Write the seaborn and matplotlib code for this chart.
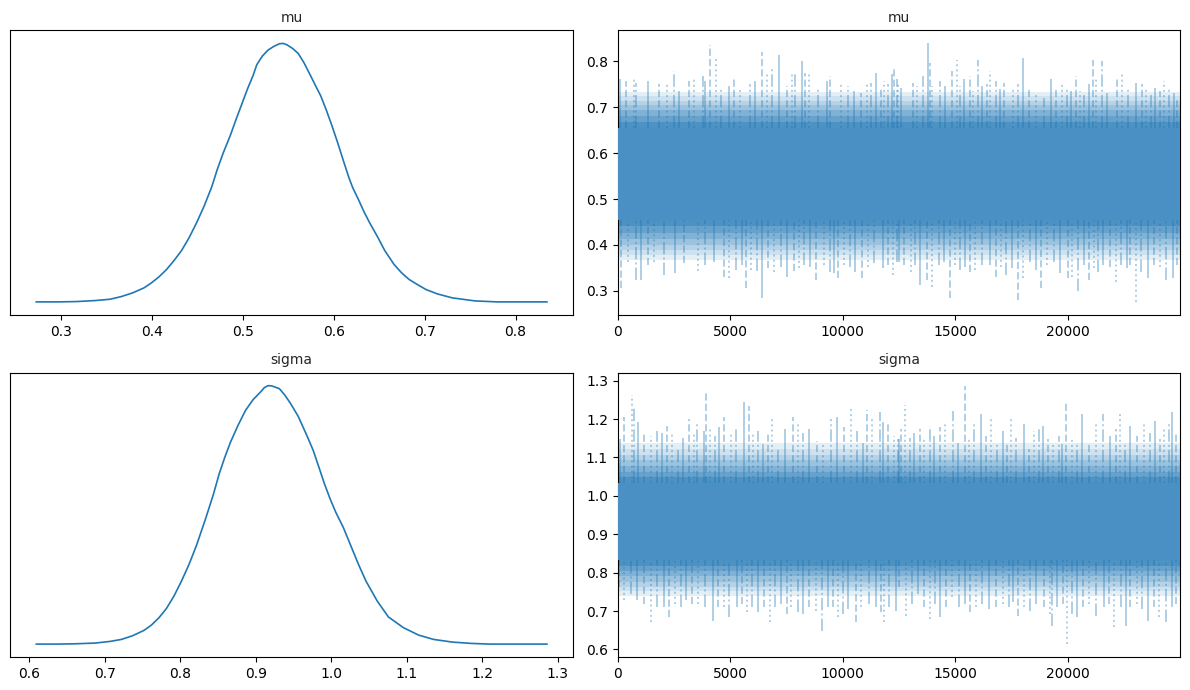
import matplotlib
matplotlib.use("Agg")
import matplotlib.pyplot as plt
import seaborn as sns

# ---------------- data ----------------
params = ["mu", "sigma"]

mu_kde_x = [0.2723, 0.2959, 0.3166, 0.3373, 0.3538, 0.3662, 0.3786, 0.3911, 0.3993, 0.4076,
            0.4159, 0.4242, 0.4325, 0.4407, 0.4490, 0.4573, 0.4656, 0.4718, 0.4780, 0.4863,
            0.4925, 0.4987, 0.5049, 0.5111, 0.5152, 0.5214, 0.5276, 0.5339, 0.5401, 0.5442,
            0.5483, 0.5546, 0.5608, 0.5670, 0.5732, 0.5794, 0.5856, 0.5918, 0.5980, 0.6042,
            0.6104, 0.6166, 0.6208, 0.6270, 0.6332, 0.6394, 0.6477, 0.6560, 0.6663, 0.6746,
            0.6829, 0.6932, 0.7015, 0.7139, 0.7305, 0.7553, 0.7801, 0.8348]
mu_kde_y = [0.0, 0.0, 0.008, 0.032, 0.064, 0.128, 0.216, 0.336, 0.456, 0.600,
            0.776, 0.992, 1.232, 1.536, 1.896, 2.296, 2.752, 3.176, 3.552, 4.000,
            4.376, 4.736, 5.096, 5.420, 5.680, 5.890, 6.032, 6.120, 6.184, 6.192,
            6.160, 6.072, 5.952, 5.736, 5.472, 5.200, 4.936, 4.592, 4.216, 3.816,
            3.392, 2.976, 2.736, 2.456, 2.160, 1.896, 1.576, 1.232, 0.896, 0.696,
            0.536, 0.400, 0.296, 0.192, 0.096, 0.024, 0.0, 0.0]

sigma_kde_x = [0.6090, 0.6374, 0.6623, 0.6872, 0.7071, 0.7221, 0.7370, 0.7520, 0.7619,
               0.7719, 0.7819, 0.7918, 0.8018, 0.8118, 0.8217, 0.8342, 0.8441, 0.8516,
               0.8591, 0.8666, 0.8765, 0.8865, 0.8965, 0.9064, 0.9114, 0.9164, 0.9214,
               0.9313, 0.9388, 0.9463, 0.9563, 0.9687, 0.9762, 0.9837, 0.9911, 0.9986,
               1.0061, 1.0160, 1.0260, 1.0360, 1.0459, 1.0609, 1.0758, 1.0958, 1.1157,
               1.1356, 1.1605, 1.1855, 1.2104, 1.2861]
sigma_kde_y = [0.0, 0.0, 0.007, 0.021, 0.055, 0.096, 0.172, 0.281, 0.391, 0.542,
               0.734, 0.988, 1.297, 1.640, 2.031, 2.600, 3.080, 3.492, 3.835, 4.143,
               4.486, 4.795, 5.015, 5.172, 5.262, 5.303, 5.296, 5.241, 5.104, 4.932,
               4.672, 4.246, 3.972, 3.629, 3.286, 2.977, 2.703, 2.394, 2.017, 1.640,
               1.297, 0.885, 0.556, 0.336, 0.185, 0.096, 0.041, 0.014, 0.0, 0.0]

# dense central band and the graded fringe levels beyond it
mu_core = (0.455, 0.655)
mu_upper_levels = [0.655, 0.668, 0.681, 0.693, 0.704, 0.714, 0.724, 0.733]
mu_lower_levels = [0.455, 0.441, 0.427, 0.413, 0.400, 0.389, 0.378, 0.368]
sigma_core = (0.832, 1.033)
sigma_upper_levels = [1.033, 1.048, 1.063, 1.078, 1.093, 1.107, 1.121, 1.138]
sigma_lower_levels = [0.832, 0.818, 0.804, 0.790, 0.776, 0.763, 0.751, 0.738]

# upper spike tips (draw index, value)
mu_top_draw = [119, 371, 711, 815, 1363, 1853, 2193, 2490, 2742, 3186, 3379, 3779, 3883,
               4120, 4387, 4594, 4965, 5187, 5454, 5898, 6106, 6402, 6639, 6847, 7173,
               7529, 7736, 7884, 8181, 8329, 8522, 8892, 9307, 9426, 9929, 10226, 10522,
               10819, 11085, 11263, 11500, 11708, 11856, 12034, 12182, 12301, 12449,
               12413, 12591, 13124, 13302, 13569, 13776, 13866, 13969, 14340, 14562,
               14858, 15081, 15229, 15407, 15673, 15792, 16014, 16192, 16414, 16563,
               16800, 17007, 17185, 17570, 17778, 18015, 18267, 18608, 18934, 19260,
               19497, 19749, 19971, 20149, 20386, 20535, 20742, 20950, 21127, 21275,
               21542, 21750, 22194, 22431, 22668, 23024, 23306, 23498, 23706, 23899,
               24121, 24269, 24491, 24743, 24862]
mu_top_val = [0.761, 0.757, 0.764, 0.753, 0.757, 0.750, 0.753, 0.779, 0.735, 0.757, 0.761,
              0.768, 0.757, 0.836, 0.809, 0.742, 0.746, 0.761, 0.739, 0.750, 0.757, 0.821,
              0.772, 0.783, 0.814, 0.746, 0.773, 0.772, 0.801, 0.775, 0.772, 0.739, 0.757,
              0.768, 0.753, 0.746, 0.735, 0.732, 0.753, 0.753, 0.775, 0.739, 0.757, 0.750,
              0.772, 0.788, 0.750,
              0.761, 0.742, 0.753, 0.746, 0.768, 0.839, 0.797, 0.746, 0.757, 0.746, 0.780,
              0.802, 0.746, 0.761, 0.768, 0.735, 0.802, 0.746, 0.750, 0.779, 0.758, 0.739,
              0.753, 0.742, 0.750, 0.807, 0.739, 0.732, 0.721, 0.761, 0.742, 0.753, 0.739,
              0.735, 0.768, 0.735, 0.732, 0.750, 0.802, 0.764, 0.801, 0.732, 0.764, 0.773,
              0.739, 0.753, 0.750, 0.742, 0.728, 0.742, 0.735, 0.757, 0.742, 0.732, 0.721]

# lower spike tips (draw index, value)
mu_bot_draw = [148, 445, 815, 1037, 1334, 1630, 2045, 2549, 2964, 3557, 3883, 4298, 4713,
               4965, 5261, 5513, 5721, 5928, 6195, 6402, 6669, 6965, 7262, 7529, 7855,
               8077, 8299, 8566, 8833, 9188, 9455, 9633, 9811, 10078, 10344, 10552, 10848,
               11145, 11411, 11782, 12004, 12241, 12419,
               12487, 12709, 13035, 13228, 13421, 13747, 13969, 14266, 14488, 14755,
               15007, 15229, 15451, 15644, 15896, 16192, 16533, 16829, 17037, 17274,
               17526, 17778, 18015, 18311, 18608, 18815, 19082, 19378, 19675, 20001,
               20194, 20445, 20712, 20935, 21157, 21335, 21572, 21898, 22135, 22372,
               22639, 22787, 23024, 23261, 23558, 23824, 24121, 24388, 24684, 24862]
mu_bot_val = [0.306, 0.364, 0.324, 0.324, 0.357, 0.364, 0.335, 0.339, 0.360, 0.344, 0.357,
              0.364, 0.331, 0.328, 0.346, 0.357, 0.307, 0.346, 0.344, 0.285, 0.349, 0.342,
              0.353, 0.331, 0.344, 0.349, 0.357, 0.353, 0.324, 0.357, 0.342, 0.339, 0.329,
              0.357, 0.353, 0.342, 0.328, 0.353, 0.360, 0.349, 0.357, 0.335, 0.364,
              0.364, 0.357, 0.342, 0.357, 0.313, 0.324, 0.309, 0.357, 0.364, 0.284, 0.357,
              0.346, 0.353, 0.342, 0.346, 0.357, 0.357, 0.331, 0.353, 0.335, 0.349, 0.280,
              0.328, 0.364, 0.346, 0.306, 0.357, 0.364, 0.339, 0.328, 0.331, 0.299, 0.357,
              0.324, 0.349, 0.342, 0.357, 0.353, 0.320, 0.357, 0.349, 0.357, 0.276, 0.342,
              0.328, 0.357, 0.353, 0.324, 0.328, 0.357]

sigma_top_draw = [119, 267, 622, 741, 919, 1156, 1482, 1749, 1956, 2193, 2401, 2668, 2890,
                  3186, 3379, 3527, 3824, 3942, 4120, 4327, 4520, 4713, 5039, 5261, 5602,
                  5824, 6002, 6224, 6447, 6669, 6876, 7114, 7440, 7781, 8003, 8240, 8522,
                  8862, 9114, 9485, 9752, 10078, 10374, 10641, 10893, 11085, 11293, 11649,
                  11782, 12034, 12301, 12449,
                  12487, 12591, 12784, 13006, 13184, 13421, 13628, 13865, 14073, 14340,
                  14562, 14903, 15110, 15451, 15599, 15822, 16148, 16385, 16592, 16859,
                  17126, 17304, 17481, 17719, 18045, 18282, 18489, 18712, 18904, 19112,
                  19349, 19601, 19749, 19942, 20194, 20416, 20653, 20935, 21275, 21572,
                  21868, 22165, 22313, 22565, 22787, 23083, 23409, 23646, 23899, 24121,
                  24269, 24491, 24640, 24832]
sigma_top_val = [1.147, 1.204, 1.262, 1.230, 1.191, 1.164, 1.156, 1.169, 1.164, 1.182,
                 1.164, 1.125, 1.151, 1.199, 1.164, 1.192, 1.169, 1.268, 1.178, 1.156,
                 1.178, 1.204, 1.164, 1.182, 1.245, 1.234, 1.160, 1.169, 1.134, 1.164,
                 1.199, 1.125, 1.173, 1.204, 1.191, 1.164, 1.173, 1.143, 1.134, 1.199,
                 1.204, 1.178, 1.227, 1.169, 1.138, 1.224, 1.199, 1.219, 1.191, 1.195,
                 1.156, 1.147,
                 1.147, 1.173, 1.236, 1.151, 1.164, 1.173, 1.151, 1.182, 1.156, 1.178,
                 1.186, 1.221, 1.138, 1.287, 1.151, 1.195, 1.213, 1.156, 1.199, 1.138,
                 1.169, 1.138, 1.201, 1.151, 1.186, 1.121, 1.169, 1.173, 1.182, 1.147,
                 1.138, 1.156, 1.134, 1.241, 1.151, 1.134, 1.213, 1.138, 1.186, 1.213,
                 1.156, 1.173, 1.217, 1.138, 1.182, 1.156, 1.195, 1.164, 1.195, 1.147,
                 1.173, 1.186, 1.217, 1.164]

sigma_bot_draw = [74, 296, 593, 860, 1186, 1482, 1749, 2045, 2297, 2549, 2816, 3038, 3290,
                  3557, 3883, 4224, 4446, 4713, 4965, 5306, 5513, 5750, 5958, 6224, 6521,
                  6758, 6995, 7262, 7529, 7706, 8003, 8240, 8522, 8818, 9099, 9337, 9559,
                  9781, 10004, 10226, 10611, 10819, 11189, 11486, 11708, 11826, 12078, 12375,
                  12487, 12828, 13080, 13332, 13599, 13865, 14117, 14340, 14606, 14858,
                  15155, 15451, 15673, 15940, 16192, 16489, 16829, 17126, 17378, 17570,
                  17793, 18045, 18341, 18608, 18934, 19201, 19304, 19527, 19793, 19971,
                  20194, 20416, 20683, 20935, 21275, 21601, 21824, 22076, 22372, 22580,
                  22787, 23083, 23306, 23558, 23824, 24047, 24388, 24640, 24832]
sigma_bot_val = [0.762, 0.728, 0.745, 0.728, 0.719, 0.671, 0.710, 0.710, 0.684, 0.719,
                 0.710, 0.728, 0.719, 0.719, 0.710, 0.675, 0.710, 0.710, 0.684, 0.710,
                 0.719, 0.697, 0.710, 0.697, 0.710, 0.671, 0.710, 0.719, 0.693, 0.710,
                 0.697, 0.693, 0.710, 0.701, 0.649, 0.710, 0.710, 0.684, 0.693, 0.706,
                 0.671, 0.710, 0.719, 0.710, 0.697, 0.671, 0.710, 0.701,
                 0.762, 0.688, 0.719, 0.745, 0.710, 0.679, 0.719, 0.684, 0.710, 0.736,
                 0.710, 0.719, 0.697, 0.710, 0.719, 0.706, 0.710, 0.719, 0.710, 0.723,
                 0.688, 0.710, 0.701, 0.719, 0.710, 0.693, 0.662, 0.710, 0.719, 0.614,
                 0.693, 0.684, 0.710, 0.719, 0.688, 0.710, 0.719, 0.658, 0.710, 0.662,
                 0.710, 0.719, 0.706, 0.675, 0.710, 0.684, 0.671, 0.710, 0.719]

n_draws = 25000
xticks_trace = [0, 5000, 10000, 15000, 20000]

# ---------------- plotting ----------------
sns.set_style("ticks")
plt.rcParams.update({
    "font.family": ["DejaVu Sans"],
    "axes.edgecolor": "black",
    "axes.linewidth": 0.8,
    "xtick.color": "black",
    "ytick.color": "black",
    "xtick.labelsize": 10,
    "ytick.labelsize": 10,
    "axes.titlesize": 10,
})

C0 = "#1f77b4"
CORE = "#4a90c4"
styles = ["-", "--", ":", "-."]
fringe_alphas = [0.80, 0.68, 0.56, 0.44, 0.33, 0.22, 0.12]

fig, axes = plt.subplots(2, 2, figsize=(11.9, 6.9), dpi=100)
fig.subplots_adjust(left=0.0088, right=0.9916, top=0.9558, bottom=0.0478,
                    wspace=0.08, hspace=0.2035)

kde = {"mu": (mu_kde_x, mu_kde_y), "sigma": (sigma_kde_x, sigma_kde_y)}
trace = {
    "mu": (mu_core, mu_upper_levels, mu_lower_levels,
           mu_top_draw, mu_top_val, mu_bot_draw, mu_bot_val),
    "sigma": (sigma_core, sigma_upper_levels, sigma_lower_levels,
              sigma_top_draw, sigma_top_val, sigma_bot_draw, sigma_bot_val),
}

for row, p in enumerate(params):
    # density panel
    ax = axes[row, 0]
    kx, ky = kde[p]
    sns.lineplot(x=kx, y=ky, ax=ax, color=C0, linewidth=1.2, sort=False)
    ax.set_yticks([])
    ax.set_ylabel("")
    ax.set_title(p)
    for s in ax.spines.values():
        s.set_visible(True)

    # trace panel
    ax = axes[row, 1]
    core, up, lo, td, tv, bd, bv = trace[p]
    for i, a in enumerate(fringe_alphas):
        ax.fill_between([0, n_draws], [up[i]] * 2, [up[i + 1]] * 2,
                        color=C0, alpha=a, linewidth=0, zorder=1)
        ax.fill_between([0, n_draws], [lo[i + 1]] * 2, [lo[i]] * 2,
                        color=C0, alpha=a, linewidth=0, zorder=1)
    ax.vlines(td, [core[1]] * len(td), tv, colors=C0, alpha=0.35, linewidth=1.4,
              linestyles=[styles[i % 4] for i in range(len(td))], zorder=2)
    ax.vlines(bd, bv, [core[0]] * len(bd), colors=C0, alpha=0.35, linewidth=1.4,
              linestyles=[styles[(i + 1) % 4] for i in range(len(bd))], zorder=2)
    ax.fill_between([0, n_draws], [core[0]] * 2, [core[1]] * 2,
                    color=CORE, linewidth=0, zorder=3)
    ax.set_xlim(0, n_draws)
    ax.set_xticks(xticks_trace)
    ax.set_title(p)
    for s in ax.spines.values():
        s.set_visible(True)

fig.savefig("out.png", dpi=100)
